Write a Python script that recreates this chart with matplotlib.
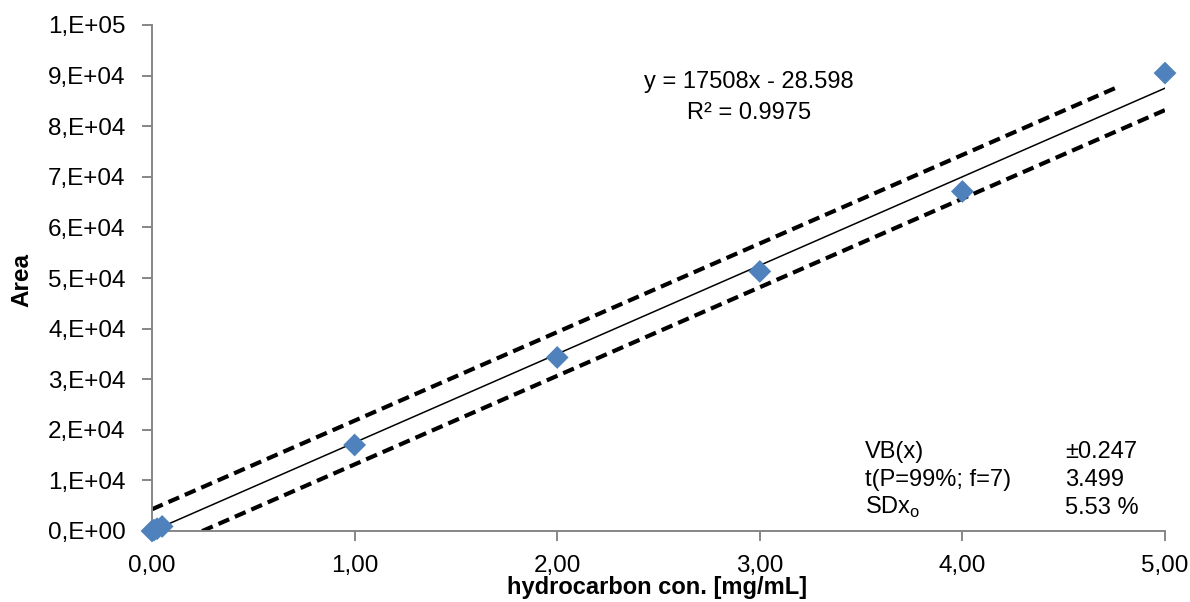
import numpy as np
import matplotlib.pyplot as plt
from matplotlib.ticker import FuncFormatter

# calibration data
conc = [0.0, 0.01, 0.025, 0.05, 1.0, 2.0, 3.0, 4.0, 5.0]
area = [0, 180, 450, 900, 17000, 34300, 51300, 67100, 90500]

slope = 17508
intercept = -28.598
r2 = 0.9975
vb = 0.247

stat_names = ["VB(x)", "t(P=99%; f=7)", "SDx$_\\mathregular{o}$"]
stat_values = ["\u00b10.247", "3.499", "5.53 %"]

plt.rcParams['font.family'] = ['Liberation Sans', 'DejaVu Sans']

W, H = 1190, 602
fig = plt.figure(figsize=(W / 100, H / 100), dpi=100)
ax = fig.add_axes([152 / W, 1 - 531 / H, 1013 / W, 506 / H])

def px(x, y):
    # pixel position in the picture -> figure fraction
    return x / W, 1 - y / H

# regression line and confidence band (shifted by +/- VB(x))
xf = np.array([0, 5.0])
ax.plot(xf, slope * xf + intercept, color='black', lw=1.1, zorder=2)
xu = np.array([0, 5.0 - vb])
ax.plot(xu, slope * (xu + vb) + intercept, color='black', lw=3,
        ls=(0, (2.8, 1.5)), zorder=2)
xl = np.array([vb, 5.0])
ax.plot(xl, slope * (xl - vb) + intercept, color='black', lw=3,
        ls=(0, (2.8, 1.5)), zorder=2)

ax.scatter(conc, area, marker='D', s=135, color='#4f81bd', zorder=3,
           edgecolors='none', clip_on=False)

ax.set_xlim(0, 5)
ax.set_ylim(0, 1e5)
ax.set_xticks([0, 1, 2, 3, 4, 5])
ax.set_yticks(np.arange(0, 100001, 10000))
ax.xaxis.set_major_formatter(FuncFormatter(lambda v, p: f"{v:.2f}".replace('.', ',')))
ax.yaxis.set_major_formatter(FuncFormatter(
    lambda v, p: "0,E+00" if v == 0 else f"{v:.0E}".replace('E+0', ',E+0')))

for s in ['top', 'right']:
    ax.spines[s].set_visible(False)
for s in ['left', 'bottom']:
    ax.spines[s].set_color('#868686')
    ax.spines[s].set_linewidth(1.4)
ax.tick_params(colors='#868686', labelcolor='black', labelsize=17.5,
               length=7, width=1.4)
ax.tick_params(axis='x', pad=10)
ax.tick_params(axis='y', pad=12)

fig.text(*px(22, 280), "Area", rotation=90, ha='center', va='center',
         fontsize=17.5, fontweight='bold')
fig.text(*px(657, 594), "hydrocarbon con. [mg/mL]", ha='center',
         va='baseline', fontsize=17, fontweight='bold')

fig.text(*px(749, 82), f"y = {slope}x - {abs(intercept)}", ha='center',
         va='center', fontsize=17)
fig.text(*px(749, 113), f"R\u00b2 = {r2}", ha='center', va='center',
         fontsize=17)

for i, (n, v) in enumerate(zip(stat_names, stat_values)):
    yy = 458 + i * 28
    fig.text(*px(865, yy), n, fontsize=17, va='baseline')
    fig.text(*px(1065, yy), v, fontsize=17, va='baseline')

fig.savefig("out.png", dpi=100)
